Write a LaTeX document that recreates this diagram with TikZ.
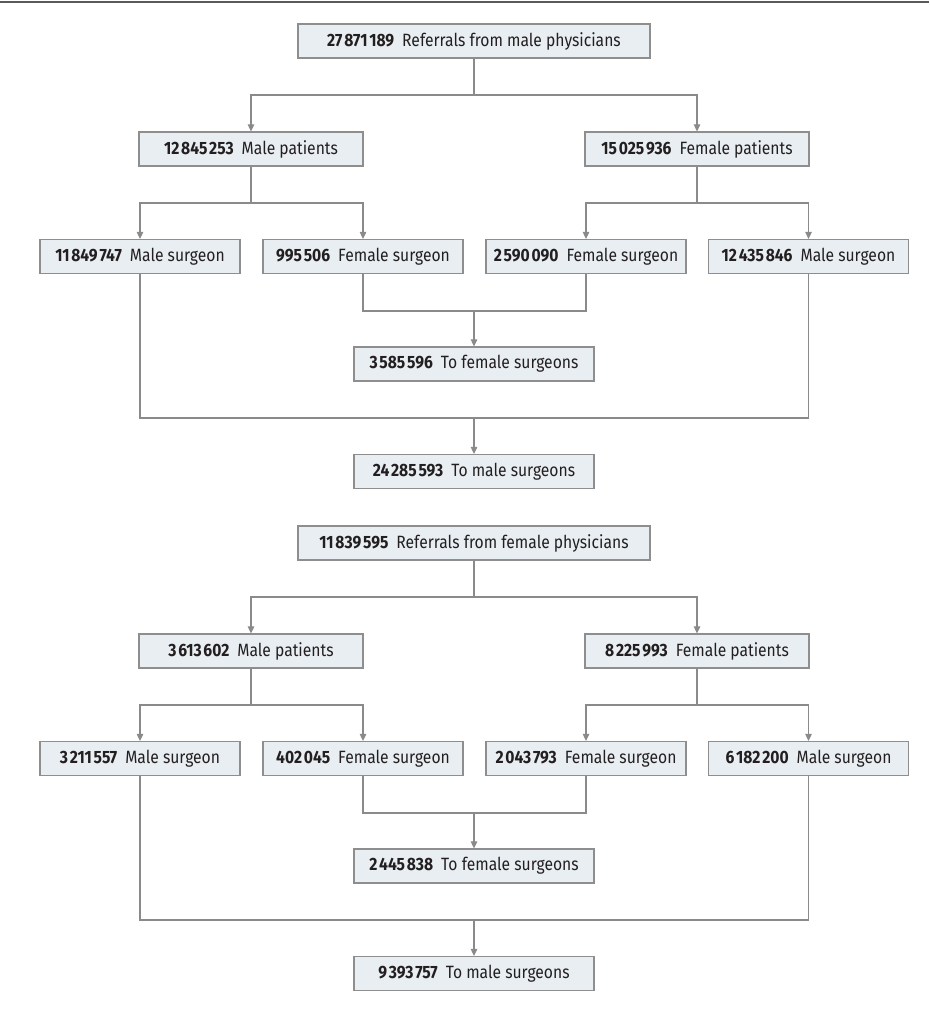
\documentclass[tikz,border=0pt]{standalone}
\usepackage{fontspec}
\setmainfont{Fira Sans}[FakeStretch=0.88]
\usetikzlibrary{arrows.meta}
\definecolor{boxfill}{HTML}{E8EEF2}
\definecolor{boxline}{HTML}{8E8E8E}
\definecolor{conn}{HTML}{8A8A8A}
\definecolor{txt}{HTML}{231F20}
\definecolor{rule}{HTML}{5A5A5A}
\newcommand{\ts}{\hspace{0.1em}}
\newcommand{\num}[1]{{\bfseries #1}\hspace{0.45em}}
\begin{document}
\begin{tikzpicture}[x=1pt,y=-1pt,
  box/.style={draw=boxline,fill=boxfill,line width=1.2pt,minimum height=34pt,inner sep=0pt,text=txt,font=\fontsize{17.8}{19}\selectfont},
  wA/.style={minimum width=352pt},
  wP/.style={minimum width=224pt},
  wS/.style={minimum width=200pt},
  wT/.style={minimum width=240pt},
  ln/.style={draw=conn,line width=1.1pt},
  arr/.style={ln,-{Triangle[length=7pt,width=6.5pt]}}]
\useasboundingbox (0,0) rectangle (929,1009);
\draw[rule,line width=2.2pt] (0,2) -- (929,2);

% ---------- top tree ----------
\node[box,wA] (r1) at (474,41) {\num{27\ts871\ts189}Referrals from male physicians};
\node[box,wP] (mp1) at (251,149) {\num{12\ts845\ts253}Male patients};
\node[box,wP] (fp1) at (697,149) {\num{15\ts025\ts936}Female patients};
\node[box,wS] (s11) at (140,256.5) {\num{11\ts849\ts747}Male surgeon};
\node[box,wS] (s12) at (363,256.5) {\num{995\ts506}Female surgeon};
\node[box,wS] (s13) at (586,256.5) {\num{2\ts590\ts090}Female surgeon};
\node[box,wS] (s14) at (808.5,256.5) {\num{12\ts435\ts846}Male surgeon};
\node[box,wT] (f1) at (474,364) {\num{3\ts585\ts596}To female surgeons};
\node[box,wT] (m1) at (474,471.5) {\num{24\ts285\ts593}To male surgeons};

\coordinate (j11) at (474,95);
\coordinate (j12) at (251,203);
\coordinate (j13) at (697,203);
\coordinate (j14) at (474,311);
\coordinate (j15) at (474,418);
\draw[ln] (r1.south) -- (j11);
\draw[arr] (j11) -| (mp1.north);
\draw[arr] (j11) -| (fp1.north);
\draw[ln] (mp1.south) -- (j12);
\draw[arr] (j12) -| (s11.north);
\draw[arr] (j12) -| (s12.north);
\draw[ln] (fp1.south) -- (j13);
\draw[arr] (j13) -| (s13.north);
\draw[arr] (j13) -| (s14.north);
\draw[ln] (s12.south) |- (j14);
\draw[ln] (s13.south) |- (j14);
\draw[arr] (j14) -- (f1.north);
\draw[ln] (s11.south) |- (j15);
\draw[ln] (s14.south) |- (j15);
\draw[arr] (j15) -- (m1.north);

% ---------- bottom tree ----------
\begin{scope}[yshift=-502pt]
\node[box,wA] (r2) at (474,41) {\num{11\ts839\ts595}Referrals from female physicians};
\node[box,wP] (mp2) at (251,149) {\num{3\ts613\ts602}Male patients};
\node[box,wP] (fp2) at (697,149) {\num{8\ts225\ts993}Female patients};
\node[box,wS] (s21) at (140,256.5) {\num{3\ts211\ts557}Male surgeon};
\node[box,wS] (s22) at (363,256.5) {\num{402\ts045}Female surgeon};
\node[box,wS] (s23) at (586,256.5) {\num{2\ts043\ts793}Female surgeon};
\node[box,wS] (s24) at (808.5,256.5) {\num{6\ts182\ts200}Male surgeon};
\node[box,wT] (f2) at (474,364) {\num{2\ts445\ts838}To female surgeons};
\node[box,wT] (m2) at (474,471.5) {\num{9\ts393\ts757}To male surgeons};

\coordinate (j21) at (474,95);
\coordinate (j22) at (251,203);
\coordinate (j23) at (697,203);
\coordinate (j24) at (474,311);
\coordinate (j25) at (474,418);
\draw[ln] (r2.south) -- (j21);
\draw[arr] (j21) -| (mp2.north);
\draw[arr] (j21) -| (fp2.north);
\draw[ln] (mp2.south) -- (j22);
\draw[arr] (j22) -| (s21.north);
\draw[arr] (j22) -| (s22.north);
\draw[ln] (fp2.south) -- (j23);
\draw[arr] (j23) -| (s23.north);
\draw[arr] (j23) -| (s24.north);
\draw[ln] (s22.south) |- (j24);
\draw[ln] (s23.south) |- (j24);
\draw[arr] (j24) -- (f2.north);
\draw[ln] (s21.south) |- (j25);
\draw[ln] (s24.south) |- (j25);
\draw[arr] (j25) -- (m2.north);
\end{scope}
\end{tikzpicture}
\end{document}
